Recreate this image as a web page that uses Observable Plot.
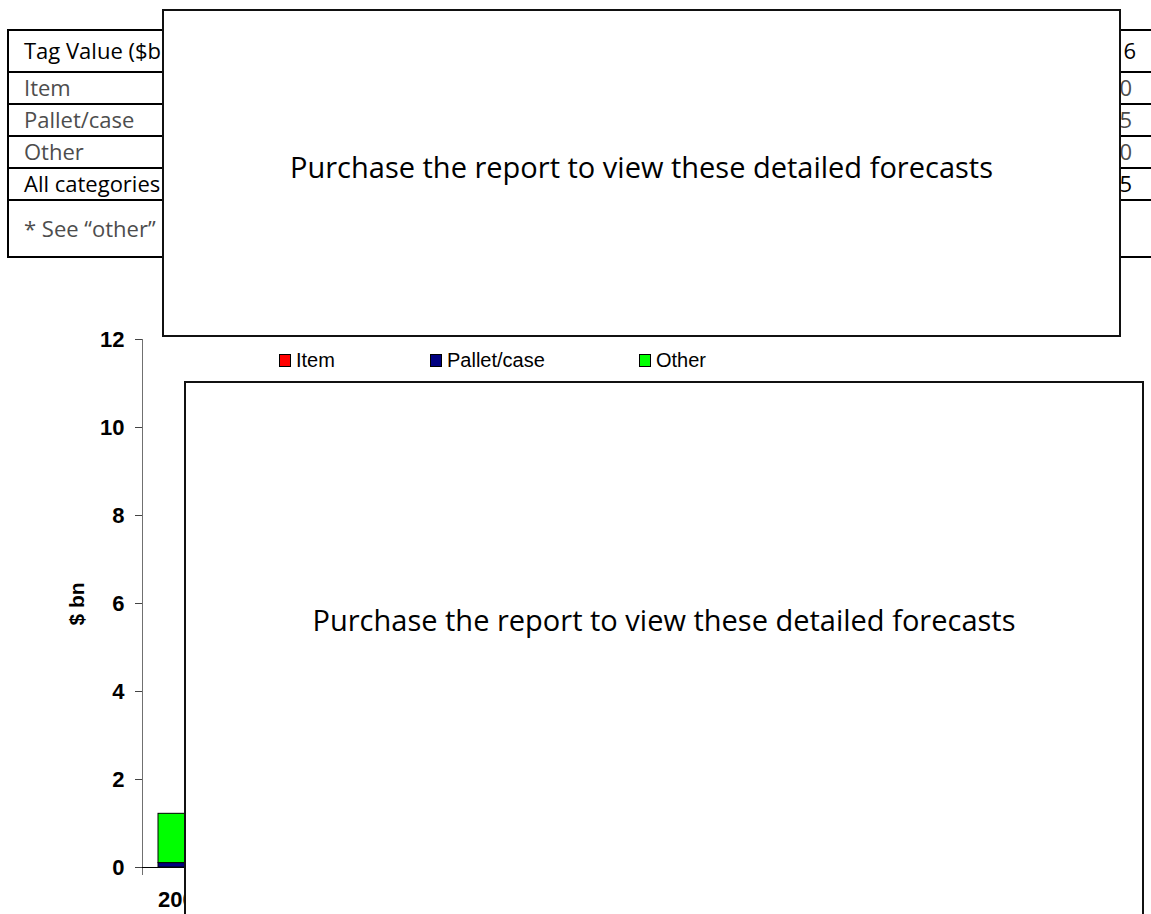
<!DOCTYPE html>
<html><head><meta charset="utf-8">
<script src="https://cdn.jsdelivr.net/npm/d3@7"></script>
<script src="https://cdn.jsdelivr.net/npm/@observablehq/plot@0.6"></script>
<style>
html,body{margin:0;padding:0;background:#fff;}
#page{position:relative;width:1151px;height:914px;overflow:hidden;background:#fff;}
.trow{position:absolute;left:7px;width:1170px;border-top:2px solid #000;border-left:2px solid #000;box-sizing:border-box;font-family:"Open Sans",sans-serif;font-size:22px;}
.trow .lab{position:absolute;left:15px;top:0;bottom:2px;display:flex;align-items:center;white-space:nowrap;}
.trow .val{position:absolute;right:45px;top:0;bottom:2px;display:flex;align-items:center;white-space:nowrap;}
.grey{color:#4d4d4d;}
.black{color:#000;}
.overlay{position:absolute;background:#fff;border:2px solid #111;box-sizing:border-box;display:flex;align-items:center;justify-content:center;font-family:"Open Sans",sans-serif;font-size:29px;color:#000;white-space:nowrap;}
.leg{position:absolute;font-family:"Liberation Sans",Arial,sans-serif;font-size:20px;color:#000;display:flex;align-items:center;height:20px;}
.leg .sw{width:12px;height:13px;border:1px solid #000;box-sizing:border-box;margin-right:5px;}
#ylab{position:absolute;font-family:"Liberation Sans",Arial,sans-serif;font-size:21px;font-weight:bold;transform:translate(-50%,-50%) rotate(-90deg);white-space:nowrap;}
#chart{position:absolute;left:0;top:320px;}
#chart text{font-size:22px;font-weight:bold;}
</style></head><body><div id="page"></div>
<script>
// ---- data ----
const years = ["2006","2007","2008","2009","2010","2011","2012","2013","2014","2015","2016"];
const seriesNames = ["Item","Pallet/case","Other"];
const seriesColors = ["#ff0000","#000080","#00ff00"];
// only the 2006 column is visible in the reference
const itemValues = [0.00];
const palletValues = [0.10];
const otherValues = [1.12];
const yTicks = [0,2,4,6,8,10,12];
const yLabel = "$ bn";
const tableHeader = "Tag Value ($bn)";
const tableRowLabels = ["Item","Pallet/case","Other","All categories"];
const tableLastYear = "2016";
const tableLastCol = ["4.40","3.95","2.50","10.85"];
const footnote = "* See “other” category";
const overlayText = "Purchase the report to view these detailed forecasts";

const page = document.getElementById("page");

// ---- table ----
const rowTops = [29, 71, 103, 135, 167, 199];
const rowBottoms = [71, 103, 135, 167, 199, 258];
function addRow(i, label, val, cls, last) {
  const r = document.createElement("div");
  r.className = "trow";
  r.style.top = rowTops[i] + "px";
  r.style.height = (rowBottoms[i] - rowTops[i]) + "px";
  if (last) r.style.borderBottom = "2px solid #000";
  const l = document.createElement("div");
  l.className = "lab " + cls; l.textContent = label; r.appendChild(l);
  if (val != null) {
    const v = document.createElement("div");
    v.className = "val " + cls; v.textContent = val;
    if (i === 0) v.style.right = "41px";
    r.appendChild(v);
  }
  page.appendChild(r);
}
addRow(0, tableHeader, tableLastYear, "black");
tableRowLabels.forEach((lab, i) => addRow(i + 1, lab, tableLastCol[i], i === 3 ? "black" : "grey"));
addRow(5, footnote, null, "grey", true);

// ---- chart ----
const barData = [];
years.slice(0, itemValues.length).forEach((yr, i) => {
  barData.push({year: yr, series: seriesNames[0], value: itemValues[i]});
  barData.push({year: yr, series: seriesNames[1], value: palletValues[i]});
  barData.push({year: yr, series: seriesNames[2], value: otherValues[i]});
});

const chart = Plot.plot({
  width: 1151, height: 594,
  marginLeft: 142, marginRight: 239, marginTop: 19, marginBottom: 47,
  style: {fontFamily: "Liberation Sans, Arial, sans-serif", fontSize: "22px", fontWeight: "bold", color: "#000", background: "transparent", overflow: "visible"},
  x: {domain: years, paddingInner: 0.3, paddingOuter: 0.18, label: null},
  y: {domain: [0, 12], label: null},
  color: {domain: seriesNames, range: seriesColors},
  marks: [
    Plot.frame({anchor: "left", stroke: "#707070", insetBottom: -7}),
    Plot.axisY({ticks: yTicks, tickSize: 7, tickPadding: 11, label: null, stroke: "#444", fontSize: 22, fontWeight: "bold"}),
    Plot.axisX({tickSize: 0, tickPadding: 24, label: null, fontSize: 22, fontWeight: "bold"}),
    Plot.barY(barData, {x: "year", y: "value", fill: "series", stroke: "#000", strokeWidth: 1}),
    Plot.ruleY([0], {stroke: "#000"})
  ]
});
chart.id = "chart";
page.appendChild(chart);

// y label
const yl = document.createElement("div");
yl.id = "ylab"; yl.textContent = yLabel;
yl.style.left = "77px"; yl.style.top = "604px";
page.appendChild(yl);

// legend
const legX = [279, 430, 639];
seriesNames.forEach((s, i) => {
  const d = document.createElement("div");
  d.className = "leg";
  d.style.left = legX[i] + "px"; d.style.top = "350px";
  const sw = document.createElement("div");
  sw.className = "sw"; sw.style.background = seriesColors[i];
  d.appendChild(sw);
  const t = document.createElement("span"); t.textContent = s;
  d.appendChild(t);
  page.appendChild(d);
});

// overlays
function overlay(l, t, r, b) {
  const o = document.createElement("div");
  o.className = "overlay";
  o.style.left = l + "px"; o.style.top = t + "px";
  o.style.width = (r - l) + "px"; o.style.height = (b - t) + "px";
  o.textContent = overlayText;
  page.appendChild(o);
  return o;
}
const o1 = overlay(162, 9, 1121, 337);
o1.style.paddingBottom = "14px";
const o2 = overlay(184, 381, 1144, 1000);
o2.style.alignItems = "flex-start";
o2.style.paddingTop = "217px";
</script>
</body></html>
